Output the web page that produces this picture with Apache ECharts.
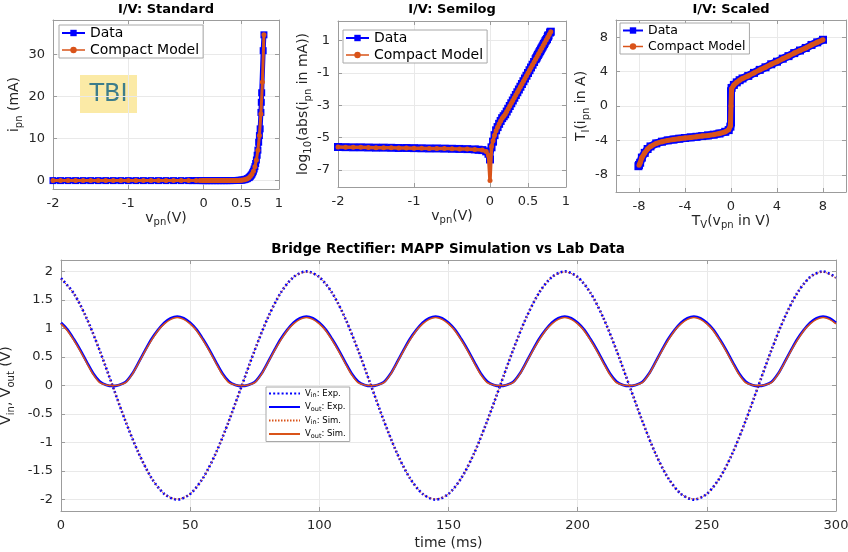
<!DOCTYPE html>
<html>
<head>
<meta charset="utf-8">
<title>Diode I/V and bridge rectifier</title>
<script src="https://cdn.jsdelivr.net/npm/echarts@6/dist/echarts.min.js"></script>
<style>
  html, body { margin: 0; padding: 0; background: #fff; }
  #main { width: 848px; height: 552px; }
</style>
</head>
<body>
<div id="main"></div>
<script>
// ---------- diode I/V (v in V, log10 |i| in mA) ----------
var vData = [
  -2, -1.9, -1.8, -1.7, -1.6, -1.5, -1.4, -1.3, -1.2, -1.1, -1.0, -0.9, -0.8, -0.7, -0.6,
  -0.5, -0.4, -0.3, -0.2, -0.15, -0.1, -0.05, -0.02, 0,
  0.02, 0.04, 0.06, 0.08, 0.10, 0.12, 0.14, 0.16, 0.18, 0.20, 0.22, 0.24, 0.26, 0.28, 0.30,
  0.32, 0.34, 0.36, 0.38, 0.40, 0.42, 0.44, 0.46, 0.48, 0.50, 0.52, 0.54, 0.56, 0.58, 0.60,
  0.61, 0.62, 0.63, 0.64, 0.65, 0.66, 0.67, 0.68, 0.69, 0.70, 0.71, 0.72, 0.73, 0.74, 0.75,
  0.76, 0.765, 0.77, 0.79, 0.80
];
var logData = [
  -5.58, -5.59, -5.60, -5.60, -5.61, -5.62, -5.62, -5.63, -5.64, -5.64, -5.65, -5.66, -5.67, -5.67, -5.68,
  -5.69, -5.70, -5.71, -5.73, -5.75, -5.77, -5.85, -6.00, -6.35,
  -5.60, -5.25, -4.85, -4.55, -4.35, -4.15, -3.97, -3.80, -3.68, -3.56, -3.39, -3.22, -3.05, -2.88, -2.71,
  -2.54, -2.37, -2.20, -2.03, -1.86, -1.69, -1.52, -1.35, -1.18, -1.01, -0.84, -0.67, -0.50, -0.33, -0.16,
  -0.08, 0.01, 0.10, 0.18, 0.27, 0.35, 0.44, 0.52, 0.61, 0.69, 0.78, 0.86, 0.96, 1.03, 1.09,
  1.21, 1.27, 1.32, 1.49, 1.54
];
var vModel = [
  -2, -1.9, -1.8, -1.7, -1.6, -1.5, -1.4, -1.3, -1.2, -1.1, -1.0, -0.9, -0.8, -0.7, -0.6,
  -0.5, -0.4, -0.3, -0.2, -0.1, -0.05, -0.02, 0,
  0.02, 0.04, 0.06, 0.08, 0.10, 0.12, 0.14, 0.16, 0.18, 0.20, 0.22, 0.24, 0.26, 0.28, 0.30,
  0.32, 0.34, 0.36, 0.38, 0.40, 0.42, 0.44, 0.46, 0.48, 0.50, 0.52, 0.54, 0.56, 0.58, 0.60,
  0.62, 0.64, 0.66, 0.68, 0.70, 0.72, 0.74, 0.76, 0.78, 0.80
];
var logModel = [
  -5.58, -5.59, -5.60, -5.60, -5.61, -5.62, -5.62, -5.63, -5.64, -5.64, -5.65, -5.66, -5.67, -5.67, -5.68,
  -5.69, -5.70, -5.71, -5.73, -5.77, -5.86, -6.10, -7.65,
  -5.55, -5.20, -4.85, -4.57, -4.36, -4.16, -3.98, -3.81, -3.68, -3.56, -3.39, -3.22, -3.05, -2.88, -2.71,
  -2.54, -2.37, -2.20, -2.03, -1.86, -1.69, -1.52, -1.35, -1.18, -1.01, -0.84, -0.67, -0.50, -0.33, -0.16,
  0.01, 0.18, 0.35, 0.52, 0.69, 0.86, 1.03, 1.20, 1.37, 1.54
];

// ---------- scaled panel (T_V, T_I) ----------
var tvData = [
  -8.05, -8, -7.9, -7.75, -7.5, -7.25, -7, -6.5, -6, -5.5, -5, -4.5, -4, -3.5, -3, -2.5, -2, -1.5, -1,
  -0.5, -0.2, -0.05, 0, 0, 0.05, 0.25, 0.5, 0.75, 1, 1.5, 2, 2.5, 3, 3.5, 4, 4.5, 5, 5.5, 6, 6.5, 7, 7.5, 8
];
var tiData = [
  -7.0, -6.85, -6.6, -6.0, -5.45, -5.0, -4.7, -4.35, -4.15, -4.0, -3.9, -3.8, -3.72, -3.65, -3.58, -3.5, -3.42, -3.33, -3.2,
  -3.0, -2.8, -2.4, -1.9, 1.7, 2.1, 2.45, 2.75, 3.0, 3.2, 3.5, 3.85, 4.2, 4.5, 4.85, 5.15, 5.5, 5.8, 6.15, 6.45, 6.75, 7.1, 7.4, 7.7
];
var tvModel = [
  -8, -7.9, -7.75, -7.5, -7.25, -7, -6.5, -6, -5.5, -5, -4.5, -4, -3.5, -3, -2.5, -2, -1.5, -1,
  -0.5, -0.2, -0.05, 0, 0.05, 0.25, 0.5, 0.75, 1, 1.5, 2, 2.5, 3, 3.5, 4, 4.5, 5, 5.5, 6, 6.5, 7, 7.5, 8
];
var tiModel = [
  -6.9, -6.6, -6.0, -5.45, -5.0, -4.7, -4.35, -4.15, -4.0, -3.9, -3.8, -3.72, -3.65, -3.58, -3.5, -3.42, -3.33, -3.2,
  -3.0, -2.75, -2.3, 0, 2.0, 2.45, 2.75, 3.0, 3.2, 3.5, 3.85, 4.2, 4.5, 4.85, 5.15, 5.5, 5.8, 6.15, 6.45, 6.75, 7.1, 7.4, 7.7
];

// ---------- bridge rectifier (time in ms, volts) ----------
var vinStep = 5;      // Vin sampled every 5 ms
var voutStep = 2.5;   // Vout sampled every 2.5 ms
var vinExp = [
  1.88, 1.61, 1.17, 0.61, -0.01, -0.63, -1.18, -1.62, -1.90, -2.00,
  -1.90, -1.62, -1.18, -0.62, 0.00, 0.62, 1.18, 1.62, 1.90, 2.00,
  1.90, 1.62, 1.18, 0.62, 0.00, -0.62, -1.18, -1.62, -1.90, -2.00,
  -1.90, -1.62, -1.18, -0.62, 0.00, 0.62, 1.18, 1.62, 1.90, 2.00,
  1.90, 1.62, 1.18, 0.62, 0.00, -0.62, -1.18, -1.62, -1.90, -2.00,
  -1.90, -1.62, -1.18, -0.62, 0.00, 0.62, 1.18, 1.62, 1.90, 2.00,
  1.89
];
var vinSim = [
  1.87, 1.61, 1.17, 0.61, -0.01, -0.62, -1.18, -1.62, -1.90, -1.99,
  -1.90, -1.62, -1.18, -0.62, 0.00, 0.62, 1.18, 1.62, 1.90, 1.99,
  1.90, 1.62, 1.18, 0.62, 0.00, -0.62, -1.18, -1.62, -1.90, -1.99,
  -1.90, -1.62, -1.18, -0.62, 0.00, 0.62, 1.18, 1.62, 1.90, 1.99,
  1.90, 1.62, 1.18, 0.62, 0.00, -0.62, -1.18, -1.62, -1.90, -1.99,
  -1.90, -1.62, -1.18, -0.62, 0.00, 0.62, 1.18, 1.62, 1.90, 1.99,
  1.88
];
var voutExp = [
  1.10, 0.98, 0.81, 0.62, 0.41, 0.21, 0.07, 0.01, -0.01, 0.01, 0.06, 0.20, 0.40, 0.61, 0.81, 0.97, 1.10, 1.18, 1.21, 1.18,
  1.10, 0.98, 0.81, 0.62, 0.41, 0.21, 0.07, 0.01, -0.01, 0.01, 0.06, 0.20, 0.40, 0.61, 0.81, 0.97, 1.10, 1.18, 1.21, 1.18,
  1.10, 0.98, 0.81, 0.62, 0.41, 0.21, 0.07, 0.01, -0.01, 0.01, 0.06, 0.20, 0.40, 0.61, 0.81, 0.97, 1.10, 1.18, 1.21, 1.18,
  1.10, 0.98, 0.81, 0.62, 0.41, 0.21, 0.07, 0.01, -0.01, 0.01, 0.06, 0.20, 0.40, 0.61, 0.81, 0.97, 1.10, 1.18, 1.21, 1.18,
  1.10, 0.98, 0.81, 0.62, 0.41, 0.21, 0.07, 0.01, -0.01, 0.01, 0.06, 0.20, 0.40, 0.61, 0.81, 0.97, 1.10, 1.18, 1.21, 1.18,
  1.10, 0.98, 0.81, 0.62, 0.41, 0.21, 0.07, 0.01, -0.01, 0.01, 0.06, 0.20, 0.40, 0.61, 0.81, 0.97, 1.10, 1.18, 1.21, 1.18,
  1.10
];
var voutSim = [
  1.08, 0.96, 0.79, 0.60, 0.39, 0.19, 0.05, 0.01, 0.00, 0.01, 0.05, 0.19, 0.39, 0.60, 0.79, 0.96, 1.08, 1.16, 1.19, 1.16,
  1.08, 0.96, 0.79, 0.60, 0.39, 0.19, 0.05, 0.01, 0.00, 0.01, 0.05, 0.19, 0.39, 0.60, 0.79, 0.96, 1.08, 1.16, 1.19, 1.16,
  1.08, 0.96, 0.79, 0.60, 0.39, 0.19, 0.05, 0.01, 0.00, 0.01, 0.05, 0.19, 0.39, 0.60, 0.79, 0.96, 1.08, 1.16, 1.19, 1.16,
  1.08, 0.96, 0.79, 0.60, 0.39, 0.19, 0.05, 0.01, 0.00, 0.01, 0.05, 0.19, 0.39, 0.60, 0.79, 0.96, 1.08, 1.16, 1.19, 1.16,
  1.08, 0.96, 0.79, 0.60, 0.39, 0.19, 0.05, 0.01, 0.00, 0.01, 0.05, 0.19, 0.39, 0.60, 0.79, 0.96, 1.08, 1.16, 1.19, 1.16,
  1.08, 0.96, 0.79, 0.60, 0.39, 0.19, 0.05, 0.01, 0.00, 0.01, 0.05, 0.19, 0.39, 0.60, 0.79, 0.96, 1.08, 1.16, 1.19, 1.16,
  1.08
];

// tick positions
var ticksV = [-2, -1, 0, 0.5, 1];
var ticksStd = [0, 10, 20, 30];
var ticksLog = [-7, -5, -3, -1, 1];
var ticksScaled = [-8, -4, 0, 4, 8];
var ticksTime = [0, 50, 100, 150, 200, 250, 300];
var ticksVolt = [-2, -1.5, -1, -0.5, 0, 0.5, 1, 1.5, 2];

var BLUE = '#0000ff', ORANGE = '#d95319';
var FONT = 'DejaVu Sans';
var BOX = '#9c9c9c', TXT = '#262626';

function pairs(xs, ys, f) {
  return xs.map(function (x, i) { return [x, f ? f(x, ys[i]) : ys[i]]; });
}
function timeOf(n, step) {
  var t = [];
  for (var i = 0; i < n; i++) t.push(i * step);
  return t;
}

var richName = {
  m: { fontSize: 14, fontFamily: FONT, color: TXT, lineHeight: 20 },
  s: { fontSize: 10, fontFamily: FONT, color: TXT, lineHeight: 10, verticalAlign: 'bottom' }
};

function mainAxis(dim, grid, min, max, ticks, name, gap) {
  return {
    type: 'value', gridIndex: grid, min: min, max: max,
    position: dim === 'x' ? 'bottom' : 'left',
    name: name, nameLocation: 'middle', nameGap: gap,
    nameTextStyle: { rich: richName },
    axisLine: { show: true, onZero: false, lineStyle: { color: BOX, width: 1 } },
    axisTick: { show: true, inside: true, length: 4, customValues: ticks, lineStyle: { color: BOX } },
    axisLabel: { customValues: ticks, fontSize: 13, fontFamily: FONT, color: TXT, margin: 8 },
    splitLine: { show: true, lineStyle: { color: '#e9e9e9', width: 1 } }
  };
}
function mirrorAxis(dim, grid, min, max, ticks) {
  return {
    type: 'value', gridIndex: grid, min: min, max: max,
    position: dim === 'x' ? 'top' : 'right',
    axisLine: { show: true, onZero: false, lineStyle: { color: BOX, width: 1 } },
    axisTick: { show: true, inside: true, length: 4, customValues: ticks, lineStyle: { color: BOX } },
    axisLabel: { show: false },
    splitLine: { show: false }
  };
}

var grids = [
  { left: 53, top: 20, width: 226, height: 169 },
  { left: 338, top: 21, width: 228, height: 166 },
  { left: 616, top: 20, width: 230, height: 172 },
  { left: 61, top: 260, width: 775, height: 251 }
];
grids.forEach(function (g) { g.outerBoundsMode = 'none'; g.containLabel = false; });

var xAxes = [
  mainAxis('x', 0, -2, 1, ticksV, '{m|v}{s|pn}{m|(V)}', 17),
  mainAxis('x', 1, -2, 1, ticksV, '{m|v}{s|pn}{m|(V)}', 17),
  mainAxis('x', 2, -10, 10, ticksScaled, '{m|T}{s|V}{m|(v}{s|pn}{m| in V)}', 17),
  mainAxis('x', 3, 0, 300, ticksTime, '{m|time (ms)}', 22),
  mirrorAxis('x', 0, -2, 1, ticksV),
  mirrorAxis('x', 1, -2, 1, ticksV),
  mirrorAxis('x', 2, -10, 10, ticksScaled),
  mirrorAxis('x', 3, 0, 300, ticksTime)
];
var yAxes = [
  mainAxis('y', 0, -2, 38.2, ticksStd, '{m|i}{s|pn}{m| (mA)}', 19),
  mainAxis('y', 1, -8.05, 2.2, ticksLog, '{m|log}{s|10}{m|(abs(i}{s|pn}{m| in mA))}', 25),
  mainAxis('y', 2, -10, 10, ticksScaled, '{m|T}{s|I}{m|(i}{s|pn}{m| in A)}', 21),
  mainAxis('y', 3, -2.2, 2.2, ticksVolt, '{m|V}{s|in}{m|, V}{s|out}{m| (V)}', 27),
  mirrorAxis('y', 0, -2, 38.2, ticksStd),
  mirrorAxis('y', 1, -8.05, 2.2, ticksLog),
  mirrorAxis('y', 2, -10, 10, ticksScaled),
  mirrorAxis('y', 3, -2.2, 2.2, ticksVolt)
];

function toCurrent(v, lg) { return (v < 0 ? -1 : 1) * Math.pow(10, lg); }

function dataSeries(grid, pts, width, size) {
  return {
    name: 'Data', type: 'line', xAxisIndex: grid, yAxisIndex: grid, data: pts,
    symbol: 'rect', symbolSize: size, itemStyle: { color: BLUE },
    lineStyle: { color: BLUE, width: width }, animation: false, z: 2
  };
}
function modelSeries(grid, pts, width) {
  return {
    name: 'Compact Model', type: 'line', xAxisIndex: grid, yAxisIndex: grid, data: pts,
    symbol: 'circle', symbolSize: 5, itemStyle: { color: ORANGE },
    lineStyle: { color: ORANGE, width: width }, animation: false, z: 3
  };
}

var tIn = timeOf(vinExp.length, vinStep);
var tOut = timeOf(voutExp.length, voutStep);

function waveSeries(name, ts, ys, color, width, dash, z) {
  return {
    name: name, type: 'line', xAxisIndex: 3, yAxisIndex: 3, data: pairs(ts, ys),
    symbol: 'none', smooth: 0.3, animation: false, z: z,
    itemStyle: { color: color },
    lineStyle: { color: color, width: width, type: dash || 'solid' }
  };
}

var series = [
  dataSeries(0, pairs(vData, logData, toCurrent), 5, 7),
  modelSeries(0, pairs(vModel, logModel, toCurrent), 3),
  dataSeries(1, pairs(vData, logData), 6, 8),
  modelSeries(1, pairs(vModel, logModel), 3.5),
  dataSeries(2, pairs(tvData, tiData), 8, 8),
  modelSeries(2, pairs(tvModel, tiModel), 5),
  waveSeries('Vin Exp', tIn, vinExp, BLUE, 2.6, [2, 2.2], 2),
  waveSeries('Vout Exp', tOut, voutExp, BLUE, 2.6, null, 2),
  waveSeries('Vin Sim', tIn, vinSim, ORANGE, 1, [1.5, 1.5], 3),
  waveSeries('Vout Sim', tOut, voutSim, ORANGE, 1.5, null, 3)
];

function ivLegend(left, top, fontSize, itemWidth) {
  return {
    left: left, top: top, orient: 'vertical', itemWidth: itemWidth, itemHeight: 8, itemGap: 3,
    padding: [1, 4, 1, 2], borderColor: '#a8a8a8', borderWidth: 1, backgroundColor: '#fff',
    textStyle: { fontSize: fontSize, fontFamily: FONT, color: '#000' },
    data: [
      { name: 'Data', lineStyle: { width: 2 } },
      { name: 'Compact Model', lineStyle: { width: 1.5 } }
    ]
  };
}

var waveLabels = {
  'Vin Exp': '{m|V}{s|in}{m|: Exp.}',
  'Vout Exp': '{m|V}{s|out}{m|: Exp.}',
  'Vin Sim': '{m|V}{s|in}{m|: Sim.}',
  'Vout Sim': '{m|V}{s|out}{m|: Sim.}'
};
var noMarker = { opacity: 0 };

var titleStyle = { fontSize: 13, fontWeight: 'bold', fontFamily: FONT, color: '#000' };

var option = {
  backgroundColor: '#fff',
  animation: false,
  title: [
    { text: 'I/V: Standard', left: 166, top: 3, textAlign: 'center', padding: 0, textStyle: titleStyle },
    { text: 'I/V: Semilog', left: 452, top: 3, textAlign: 'center', padding: 0, textStyle: titleStyle },
    { text: 'I/V: Scaled', left: 731, top: 3, textAlign: 'center', padding: 0, textStyle: titleStyle },
    { text: 'Bridge Rectifier: MAPP Simulation vs Lab Data', left: 448, top: 242, textAlign: 'center', padding: 0,
      textStyle: { fontSize: 13.5, fontWeight: 'bold', fontFamily: FONT, color: '#000' } }
  ],
  grid: grids,
  xAxis: xAxes,
  yAxis: yAxes,
  legend: [
    ivLegend(59, 25, 14, 23),
    ivLegend(343, 30, 14, 23),
    ivLegend(620, 23, 12.5, 20),
    {
      left: 266, top: 387, orient: 'vertical', itemWidth: 31, itemHeight: 10, itemGap: 3.5,
      padding: [2, 4, 2, 2], borderColor: '#a8a8a8', borderWidth: 1, backgroundColor: '#fff',
      data: [
        { name: 'Vin Exp', itemStyle: noMarker },
        { name: 'Vout Exp', itemStyle: noMarker },
        { name: 'Vin Sim', itemStyle: noMarker },
        { name: 'Vout Sim', itemStyle: noMarker }
      ],
      formatter: function (name) { return waveLabels[name]; },
      textStyle: {
        rich: {
          m: { fontSize: 8.5, fontFamily: FONT, color: '#000', lineHeight: 11 },
          s: { fontSize: 6.5, fontFamily: FONT, color: '#000', lineHeight: 6, verticalAlign: 'bottom' }
        }
      }
    }
  ],
  graphic: [
    {
      type: 'group', left: 80, top: 75,
      children: [
        { type: 'rect', shape: { x: 0, y: 0, width: 57, height: 38 }, style: { fill: '#fbeaa6' } },
        { type: 'text', x: 28.5, y: 20, style: { text: 'TBI', fill: '#3d7d8b', font: '24px "DejaVu Sans"', textAlign: 'center', textVerticalAlign: 'middle' } }
      ]
    }
  ],
  series: series
};

var chart = echarts.init(document.getElementById('main'), null, { renderer: 'canvas' });
chart.setOption(option);
</script>
</body>
</html>
